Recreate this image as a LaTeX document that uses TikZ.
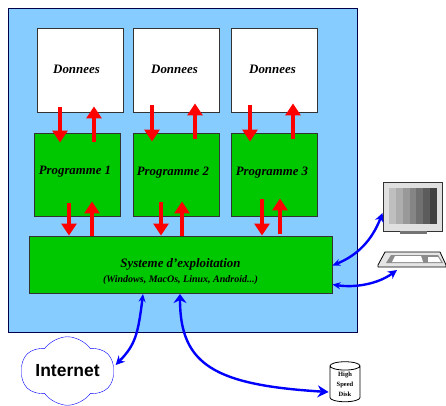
\documentclass[tikz,border=0pt]{standalone}
\usepackage{fontspec}
\setmainfont{Liberation Serif}
\newfontfamily\inetfont{Liberation Sans}
\usetikzlibrary{arrows.meta,shapes.symbols,shapes.geometric}
\definecolor{skyfill}{RGB}{135,204,255}
\definecolor{progfill}{RGB}{0,200,0}
\newcommand{\moved}[3]{\hspace*{#1pt}\raisebox{#2pt}[0pt][0pt]{#3}}
\tikzset{
	box/.style={draw=black!80, line width=0.9pt, inner sep=0pt, font=\fontsize{12.9}{13}\selectfont\bfseries\itshape},
	databox/.style={box, fill=white, minimum width=86pt, minimum height=84pt},
	progbox/.style={box, fill=progfill, minimum width=86pt, minimum height=83pt, font=\fontsize{12.8}{14}\selectfont\bfseries\itshape},
	redarrow/.style={draw=red, line width=4.6pt, -{Triangle[length=12pt,width=15pt]}},
	bluearrow/.style={draw=blue, line width=2.4pt},
	smalltip/.style={{Stealth[length=8pt,width=7pt]}-{Stealth[length=9pt,width=9pt]}},
	bigtip/.style={{Stealth[length=9pt,width=13pt]}-{Stealth[length=11pt,width=12pt]}}
}
\begin{document}
\begin{tikzpicture}[x=1pt, y=-1pt]
	\useasboundingbox (0,0) rectangle (446,405);
	\node[draw=black!70!blue, fill=skyfill, line width=0.9pt, minimum width=349pt, minimum height=324pt, inner sep=0pt] (ordi) at (182.5,170) {};

	\node[databox] (d1) at (80,70) {\moved{-7}{-3}{Donnees}};
	\node[databox] (d2) at (176,70) {\moved{-3}{-3}{Donnees}};
	\node[databox] (d3) at (274,70) {\moved{-3}{-3}{Donnees}};
	\node[progbox] (p1) at (77,174.5) {\moved{-4}{0.5}{Programme 1}};
	\node[progbox] (p2) at (176,174.5) {\moved{-6}{-0.5}{Programme 2}};
	\node[progbox] (p3) at (274,174.5) {\moved{-4}{-0.5}{Programme 3}};
	\node[box, fill=progfill, minimum width=303pt, minimum height=57pt, font=\fontsize{12.9}{14}\selectfont\bfseries\itshape] (os) at (180.5,264.5)
		{\moved{0}{-10.5}{\begin{tabular}{@{}c@{}}Systeme d'exploitation\\[1pt]{\fontsize{10}{11}\selectfont (Windows, MacOs, Linux, Android...)}\end{tabular}}};

	% data <-> programs
	\draw[redarrow] ([shift={(-20,-5)}]d1.south) -- ([shift={(-17,10)}]p1.north);
	\draw[redarrow] ([shift={(17,9)}]p1.north) -- ([shift={(14,-6)}]d1.south);
	\draw[redarrow] ([shift={(-24,-7)}]d2.south) -- ([shift={(-24,9)}]p2.north);
	\draw[redarrow] ([shift={(19,6)}]p2.north) -- ([shift={(19,-9)}]d2.south);
	\draw[redarrow] ([shift={(-24,-7)}]d3.south) -- ([shift={(-24,9)}]p3.north);
	\draw[redarrow] ([shift={(19,6)}]p3.north) -- ([shift={(19,-9)}]d3.south);
	% programs <-> system
	\draw[redarrow] ([shift={(-8,-13)}]p1.south) -- ([xshift=-8pt]p1.south |- os.north);
	\draw[redarrow] ([xshift=15pt]p1.south |- os.north) -- ([shift={(15,-15)}]p1.south);
	\draw[redarrow] ([shift={(-15,-14)}]p2.south) -- ([xshift=-15pt]p2.south |- os.north);
	\draw[redarrow] ([xshift=6pt]p2.south |- os.north) -- ([shift={(6,-15)}]p2.south);
	\draw[redarrow] ([shift={(-12,-17)}]p3.south) -- ([xshift=-12pt]p3.south |- os.north);
	\draw[redarrow] ([shift={(6,18)}]p3.south) -- ([shift={(6,-18)}]p3.south);

	\node[draw=black!80, fill=black!12, line width=0.9pt, minimum width=59pt, minimum height=49pt, inner sep=0pt] (monitor) at (412.5,206.5) {};
	\fill[black!55] (400,231) rectangle (427,233.5);
	\foreach \i/\shade in {0/75,1/68,2/60,3/52,4/44,5/36,6/26}
		\fill[black!\the\numexpr100-\shade\relax] (389+\i*6.86,188) rectangle (389+\i*6.86+6.9,224);

	\coordinate (kbd) at (397,270);
	\filldraw[draw=black, fill=black!10, line width=0.8pt] (385,252) -- (440,252) -- (446,265) -- (446,267) -- (378,267) -- (378,265) -- cycle;
	\fill[black!45] (386,263) -- (391,255) -- (438,255) -- (443,263) -- cycle;
	\fill[white] (392,262) -- (395,256) -- (421,256) -- (423,262) -- cycle;
	\fill[white] (428,262) -- (428,257) -- (438,257) -- (441,262) -- cycle;

	\node[cloud, draw=blue, fill=white, cloud puffs=6, cloud puff arc=110, aspect=1.75, inner sep=0pt, minimum width=93pt, minimum height=53pt, font=\inetfont\fontsize{17.5}{19}\selectfont\bfseries] (inet) at (67.5,371) {Internet};
	\node[cylinder, shape border rotate=90, aspect=0.5, draw=black, fill=white, line width=0.8pt, minimum width=30pt, minimum height=40pt, inner sep=0pt, align=center, font=\fontsize{6.5}{10}\selectfont\bfseries] (disk) at (345,384) {High\\Speed\\Disk};

	\draw[bluearrow, smalltip] ([shift={(0,1)}]os.east) .. controls (358,255) and (372,240) .. ([shift={(0,6.5)}]monitor.west);
	\draw[bluearrow, smalltip] ([shift={(0,20)}]os.east) .. controls (355,288) and (378,284) .. (kbd);
	\draw[bluearrow, smalltip] (143,294) .. controls (138,335) and (135,345) .. ([shift={(2,-6)}]inet.east);
	\draw[bluearrow, bigtip] (180,294) .. controls (180,365) and (215,385) .. ([shift={(-1,8)}]disk.west);
\end{tikzpicture}
\end{document}
